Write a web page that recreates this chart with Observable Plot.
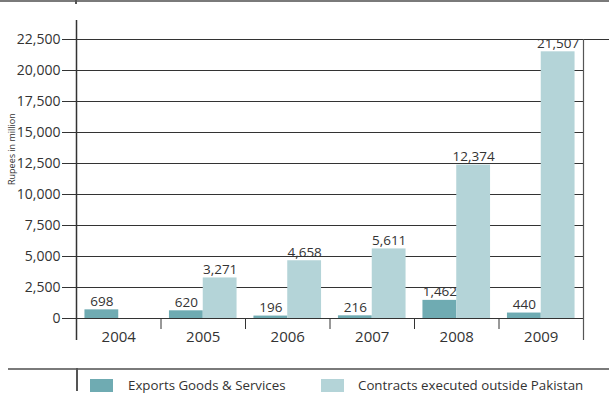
<!DOCTYPE html>
<html><head><meta charset="utf-8">
<script src="https://cdn.jsdelivr.net/npm/d3@7"></script>
<script src="https://cdn.jsdelivr.net/npm/@observablehq/plot@0.6"></script>
<style>
body{margin:0;background:#fff;font-family:"Open Sans",sans-serif;color:#333;}
#wrap{position:relative;width:609px;height:396px;overflow:hidden;}
#chart{position:absolute;left:0;top:0;}
.topline{position:absolute;left:0;top:0;width:609px;height:2px;background:#7a7a7a;}
.toptick{position:absolute;left:75px;top:0;width:1.5px;height:4px;background:#555;}
.legline{position:absolute;left:8px;top:368px;width:601px;height:2px;background:#7a7a7a;}
.legtick{position:absolute;left:76px;top:368px;width:1.5px;height:23px;background:#555;}
.sw{position:absolute;top:379px;width:23px;height:13px;}
.lt{position:absolute;top:376px;font-size:13.3px;line-height:18px;color:#333;white-space:nowrap;}
</style></head><body>
<div id="wrap">
<div class="topline"></div><div class="toptick"></div>
<div id="chart"></div>
<div class="legline"></div><div class="legtick"></div>
<div id="legend"></div>
</div>
<script>
const years = [2004, 2005, 2006, 2007, 2008, 2009];
const exportsVals = [698, 620, 196, 216, 1462, 440];
const contractsVals = [null, 3271, 4658, 5611, 12374, 21507];
const yTicks = [0, 2500, 5000, 7500, 10000, 12500, 15000, 17500, 20000, 22500];
const seriesNames = ["Exports Goods & Services", "Contracts executed outside Pakistan"];
const seriesColors = ["#6fabb2", "#b4d4d8"];

const rows = years.flatMap((yr, i) => [
  {year: yr, series: seriesNames[0], value: exportsVals[i], side: -1},
  {year: yr, series: seriesNames[1], value: contractsVals[i], side: 1}
]).filter(d => d.value != null);
const seps = years.slice(0, -1).map(y => y + 0.5);
const fmt = d3.format(",");

const chart = Plot.plot({
  width: 609, height: 360,
  marginLeft: 76, marginRight: 26, marginTop: 39, marginBottom: 42,
  style: {fontFamily: "Open Sans, sans-serif", color: "#333", background: "transparent"},
  x: {type: "linear", domain: [years[0] - 0.5, years[years.length - 1] + 0.5], axis: null},
  y: {domain: [0, 22500], axis: null},
  color: {domain: seriesNames, range: seriesColors},
  marks: [
    Plot.ruleY(yTicks, {stroke: "#333", strokeWidth: 1.2}),
    Plot.ruleY([yTicks[yTicks.length - 1]], {stroke: "#333", strokeWidth: 1.2, insetRight: -26}),
    Plot.rectY(rows, {
      x1: d => d.side < 0 ? d.year - 0.4 : d.year,
      x2: d => d.side < 0 ? d.year : d.year + 0.4,
      y1: 0, y2: "value", fill: "series"
    }),
    Plot.ruleY([0], {stroke: "#333", strokeWidth: 1.2, insetLeft: -14}),
    Plot.text(rows, {
      x: d => d.year + d.side * 0.2, y: "value", text: d => fmt(d.value),
      lineAnchor: "bottom", dy: -4, fontSize: 13.5, fill: "#333"
    }),
    Plot.axisY({ticks: yTicks, tickFormat: d => fmt(d), tickSize: 14, tickPadding: 2, fontSize: 14, label: null, stroke: "#333"}),
    Plot.ruleX([years[0] - 0.5], {stroke: "#333", strokeWidth: 1.5, insetTop: -19, insetBottom: -22}),
    Plot.ruleX([years[years.length - 1] + 0.5], {stroke: "#555", strokeWidth: 1.2, insetBottom: -22}),
    Plot.axisX({ticks: seps, tickSize: 11, tickFormat: () => "", label: null, stroke: "#333"}),
    Plot.axisX({ticks: years, tickSize: 0, tickPadding: 13, fontSize: 15, tickFormat: d => String(d), label: null}),
    Plot.text(["Rupees in million"], {frameAnchor: "left", dx: -64, dy: 6, rotate: -90, fontSize: 9, fill: "#333"})
  ]
});
document.getElementById("chart").appendChild(chart);

const legend = document.getElementById("legend");
const legX = [[90, 128], [321, 358]];
seriesNames.forEach((name, i) => {
  const sw = document.createElement("div");
  sw.className = "sw"; sw.style.left = legX[i][0] + "px"; sw.style.background = seriesColors[i];
  const t = document.createElement("div");
  t.className = "lt"; t.style.left = legX[i][1] + "px"; t.textContent = name;
  legend.appendChild(sw); legend.appendChild(t);
});
</script>
</body></html>
